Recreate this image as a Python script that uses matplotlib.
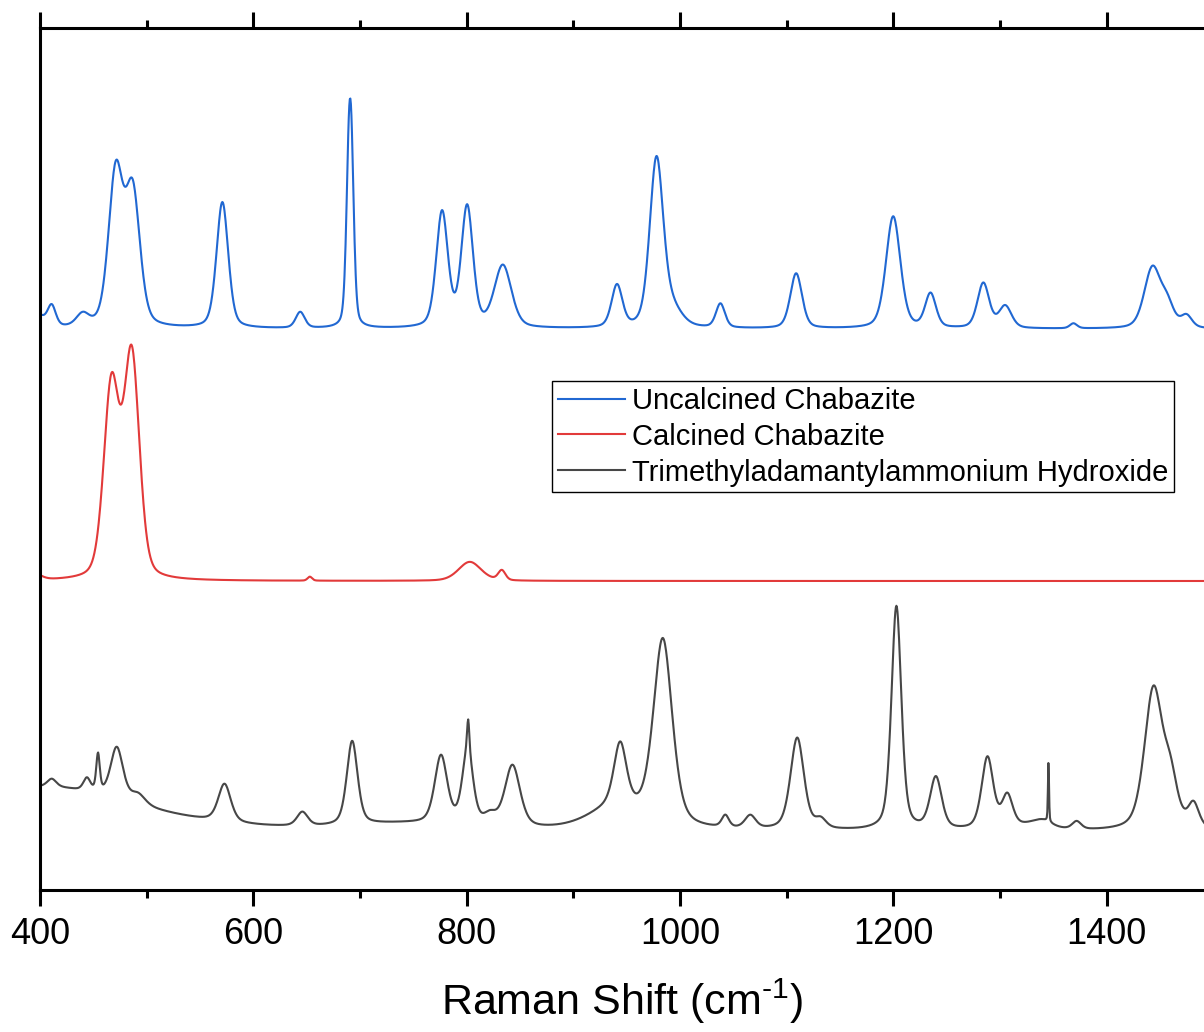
import matplotlib
matplotlib.use("Agg")
import matplotlib.pyplot as plt
import numpy

plt.rcParams["font.family"] = ["Liberation Sans", "DejaVu Sans"]
plt.rcParams["mathtext.fontset"] = "custom"
plt.rcParams["mathtext.rm"] = "Liberation Sans"

LABELS = [
    "Uncalcined Chabazite",
    "Calcined Chabazite",
    "Trimethyladamantylammonium Hydroxide",
]
COLORS = ["#2168d2", "#e23a3a", "#474747"]

# vertical offset (baseline) of each trace, arbitrary intensity units
BASELINES = [561, 309, 58]
# peak shape mix (0 = gaussian, 1 = lorentzian)
SHAPE_MIX = [0.35, 0.3, 0.45]

# Uncalcined chabazite: peak centre (cm-1), height, fwhm (cm-1)
UNCALC_CENTERS = [395, 411, 440, 471, 487, 571, 644, 689.5, 692, 777, 800.5, 834, 941, 978, 992, 1038, 1109, 1200, 1235, 1284.5, 1305, 1369, 1443, 1457, 1475]
UNCALC_HEIGHTS = [15, 20, 12, 153, 132, 126, 16, 128, 135, 115, 120, 62, 42, 166, 18, 24, 55, 112, 34, 45, 22, 5, 60, 22, 12]
UNCALC_WIDTHS = [20, 9, 14, 16, 16, 13, 10, 6, 6, 13, 13, 19, 12, 15, 22, 10, 13, 16, 12, 13, 14, 8, 18, 15, 12]

# Calcined chabazite
CALC_CENTERS = [395, 467, 486, 653, 803, 833]
CALC_HEIGHTS = [6, 192, 222, 4, 19, 10]
CALC_WIDTHS = [15, 17, 17, 5, 25, 8]

# TMAdaOH (structure directing agent)
SDA_CENTERS = [400, 740, 940, 1330, 411, 444, 454.4, 472, 492, 573, 646, 692.7, 776, 801, 801.5, 822, 843, 944, 984, 1042.6, 1066, 1110, 1132, 1203, 1240, 1288.4, 1307, 1340, 1345.6, 1372, 1444, 1460, 1481.6]
SDA_HEIGHTS = [45, 6, 22, 5, 8, 13, 38, 52, 10, 38, 14, 84, 68, 74, 30, 10, 62, 62, 186, 12, 13, 92, 9, 224, 52, 72, 32, 6, 60, 8, 140, 45, 24]
SDA_WIDTHS = [212, 120, 60, 40, 10, 8, 4, 14, 16, 14, 12, 12, 14, 12, 2.5, 14, 17, 14, 21, 8, 12, 15, 12, 11, 13, 13, 12, 20, 1.2, 10, 20, 16, 12]

SHIFT = numpy.arange(400, 1492.5, 0.5)


def _spectrum(centers, heights, widths, mix, base):
    y = numpy.full_like(SHIFT, float(base))
    for c, h, w in zip(centers, heights, widths):
        u = 4 * (SHIFT - c) ** 2 / w**2
        y += h * ((1 - mix) * numpy.exp(-numpy.log(2) * u) + mix / (1 + u))
    return y


traces = [
    (UNCALC_CENTERS, UNCALC_HEIGHTS, UNCALC_WIDTHS),
    (CALC_CENTERS, CALC_HEIGHTS, CALC_WIDTHS),
    (SDA_CENTERS, SDA_HEIGHTS, SDA_WIDTHS),
]

fig = plt.figure(figsize=(12.04, 10.32), dpi=100)
ax = fig.add_axes([40 / 1204, 1 - 890 / 1032, 1 - 40 / 1204, (890 - 28) / 1032])

for (c, h, w), mix, base, color, label in zip(traces, SHAPE_MIX, BASELINES, COLORS, LABELS):
    ax.plot(SHIFT, _spectrum(c, h, w, mix, base), color=color, lw=1.5, label=label)

ax.set_xticks([400, 600, 800, 1000, 1200, 1400])
ax.set_xticks([500, 700, 900, 1100, 1300], minor=True)
ax.set_yticks([])
ax.set_xlim(400, 400 + 1164 / 1.0665)
ax.set_ylim(0, 862)
ax.spines["right"].set_visible(False)
for s in ("left", "top", "bottom"):
    ax.spines[s].set_linewidth(2.2)
ax.tick_params(axis="x", which="both", top=True, direction="out", width=2.2, labelsize=26, pad=8)
ax.tick_params(axis="x", which="major", length=11.5)
ax.tick_params(axis="x", which="minor", length=6)
ax.set_xlabel(r"Raman Shift (cm$^{\text{-1}}$)", fontsize=31, labelpad=18)

fig.legend(
    loc="upper left",
    bbox_to_anchor=(552 / 1204, 1 - 381 / 1032),
    borderaxespad=0,
    fontsize=21,
    frameon=True,
    fancybox=False,
    framealpha=1,
    edgecolor="black",
    handlelength=2.3,
    handletextpad=0.25,
    borderpad=0.2,
    labelspacing=0.27,
).get_frame().set_linewidth(1.0)

fig.savefig("out.png", dpi=100)
